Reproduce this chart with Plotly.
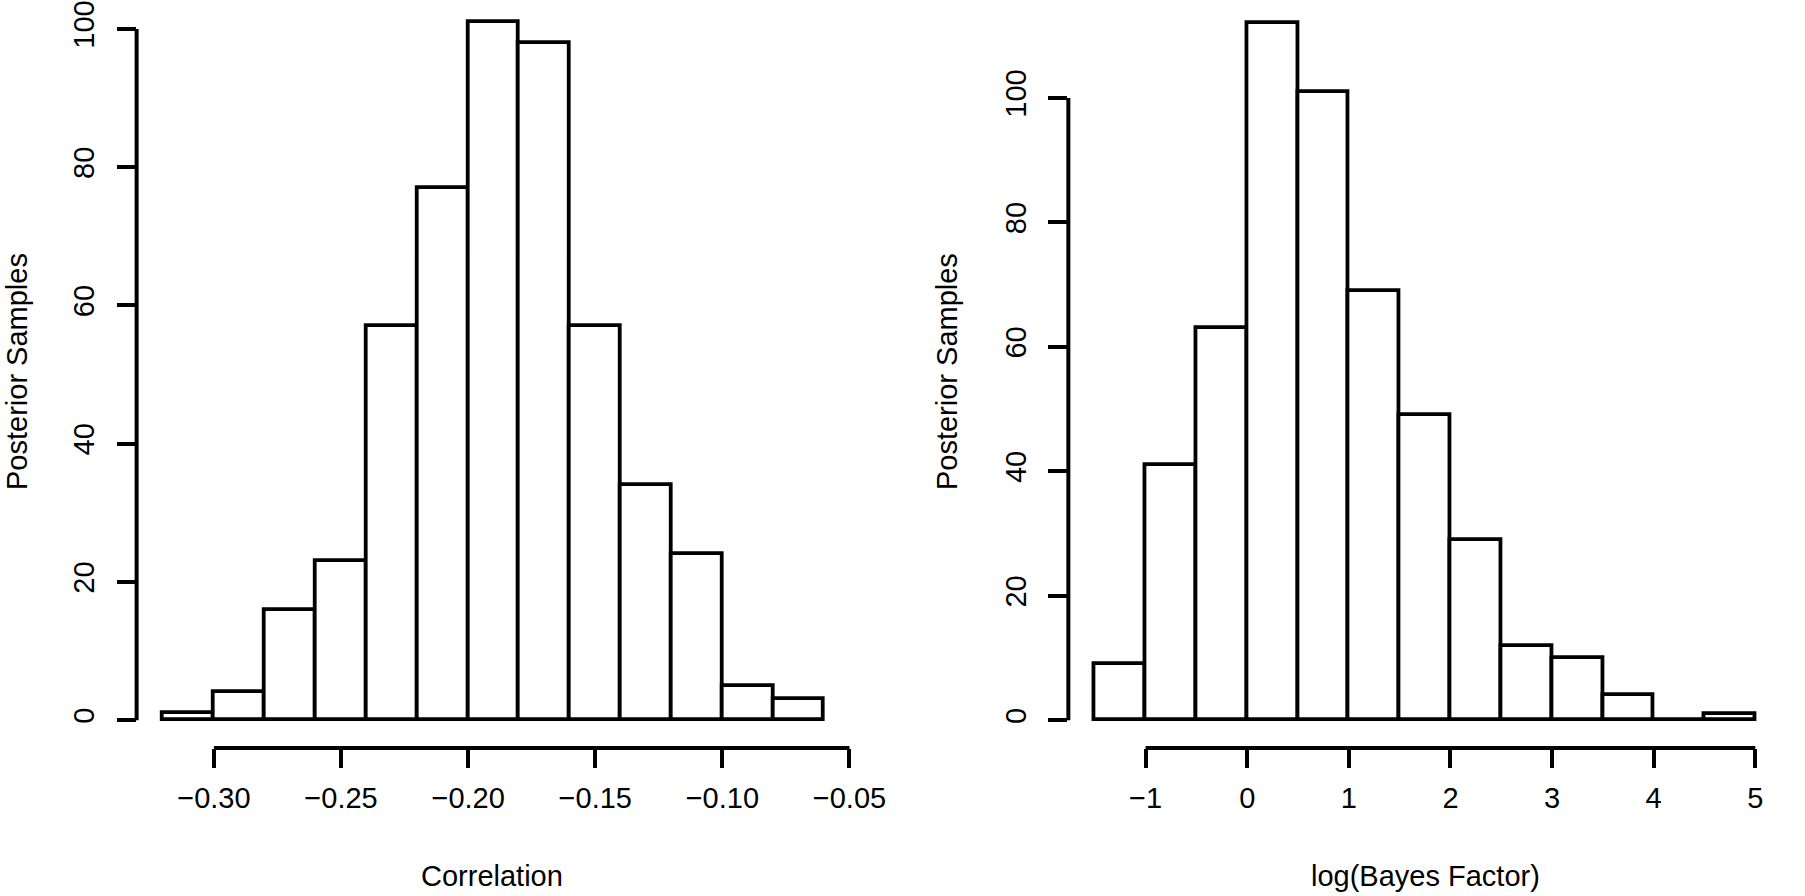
import plotly.graph_objects as go

# histogram data
corr_edges = [-0.32, -0.30, -0.28, -0.26, -0.24, -0.22, -0.20, -0.18, -0.16, -0.14, -0.12, -0.10, -0.08, -0.06]
corr_counts = [1, 4, 16, 23, 57, 77, 101, 98, 57, 34, 24, 5, 3]

bf_edges = [-1.5, -1.0, -0.5, 0.0, 0.5, 1.0, 1.5, 2.0, 2.5, 3.0, 3.5, 4.0, 4.5, 5.0]
bf_counts = [9, 41, 63, 112, 101, 69, 49, 29, 12, 10, 4, 0, 1]

corr_ticks = [-0.30, -0.25, -0.20, -0.15, -0.10, -0.05]
corr_ticktext = ['\u22120.30', '\u22120.25', '\u22120.20', '\u22120.15', '\u22120.10', '\u22120.05']
bf_ticks = [-1, 0, 1, 2, 3, 4, 5]
bf_ticktext = ['\u22121', '0', '1', '2', '3', '4', '5']
count_ticks = [0, 20, 40, 60, 80, 100]

W, H = 1805, 896
FONT = 'Liberation Sans, Arial, sans-serif'


def mids(edges):
    return [(edges[i] + edges[i + 1]) / 2 for i in range(len(edges) - 1)]


def widths(edges):
    return [edges[i + 1] - edges[i] for i in range(len(edges) - 1)]


fig = go.Figure()
fig.add_trace(go.Bar(x=mids(corr_edges), y=corr_counts, width=widths(corr_edges),
                     marker=dict(color='white', line=dict(color='black', width=3.8)),
                     xaxis='x', yaxis='y', showlegend=False))
fig.add_trace(go.Bar(x=mids(bf_edges), y=bf_counts, width=widths(bf_edges),
                     marker=dict(color='white', line=dict(color='black', width=3.8)),
                     xaxis='x2', yaxis='y2', showlegend=False))

ax = dict(showgrid=False, zeroline=False, showline=False, ticks='outside', ticklen=19,
          tickwidth=4, tickcolor='black', ticklabeloverflow='allow',
          tickfont=dict(family=FONT, size=29, color='black'))
ydom = [(H - 747.4) / H, 1]

fig.update_layout(
    width=W, height=H,
    margin=dict(l=0, r=0, t=0, b=0),
    paper_bgcolor='white', plot_bgcolor='white',
    bargap=0,
    xaxis=dict(ax, domain=[139.4 / W, 867.8 / W], range=[-0.3304, -0.0496],
               tickvals=corr_ticks, ticktext=corr_ticktext, ticklabelstandoff=5, anchor='y'),
    yaxis=dict(ax, domain=ydom, range=[-4.04, 103.6], tickvals=count_ticks,
               tickangle=-90, ticklabelstandoff=11, anchor='x'),
    xaxis2=dict(ax, domain=[1090.1 / W, 1], range=[-1.76, 5.135],
                tickvals=bf_ticks, ticktext=bf_ticktext, ticklabelstandoff=5, anchor='y2'),
    yaxis2=dict(ax, domain=ydom, range=[-4.48, 115.09], tickvals=count_ticks,
                tickangle=-90, ticklabelstandoff=11, anchor='x2'),
)

# R style axis lines running only between the outer ticks
for xr, yr, xt in [('x', 'y', corr_ticks), ('x2', 'y2', bf_ticks)]:
    fig.add_shape(type='line', xref=xr, yref=yr + ' domain', x0=xt[0], x1=xt[-1], y0=0, y1=0,
                  line=dict(color='black', width=4))
    fig.add_shape(type='line', xref=xr + ' domain', yref=yr, x0=0, x1=0,
                  y0=count_ticks[0], y1=count_ticks[-1], line=dict(color='black', width=4))

# axis titles
titles = [
    dict(text='Correlation', x=501.7 / W, y=1 - 876 / H, textangle=0),
    dict(text='log(Bayes Factor)', x=1454 / W, y=1 - 876 / H, textangle=0),
    dict(text='Posterior Samples', x=18 / W, y=1 - 369 / H, textangle=-90),
    dict(text='Posterior Samples', x=967 / W, y=1 - 369 / H, textangle=-90),
]
for t in titles:
    fig.add_annotation(text=t['text'], x=t['x'], y=t['y'], xref='paper', yref='paper',
                       xanchor='center', yanchor='middle', textangle=t['textangle'],
                       showarrow=False, font=dict(family=FONT, size=29, color='black'))

# page body has a default 8px margin, drop it so the figure fills the window
fig.write_html('out.html', config={'displayModeBar': False},
               post_script="document.body.style.margin='0';")
